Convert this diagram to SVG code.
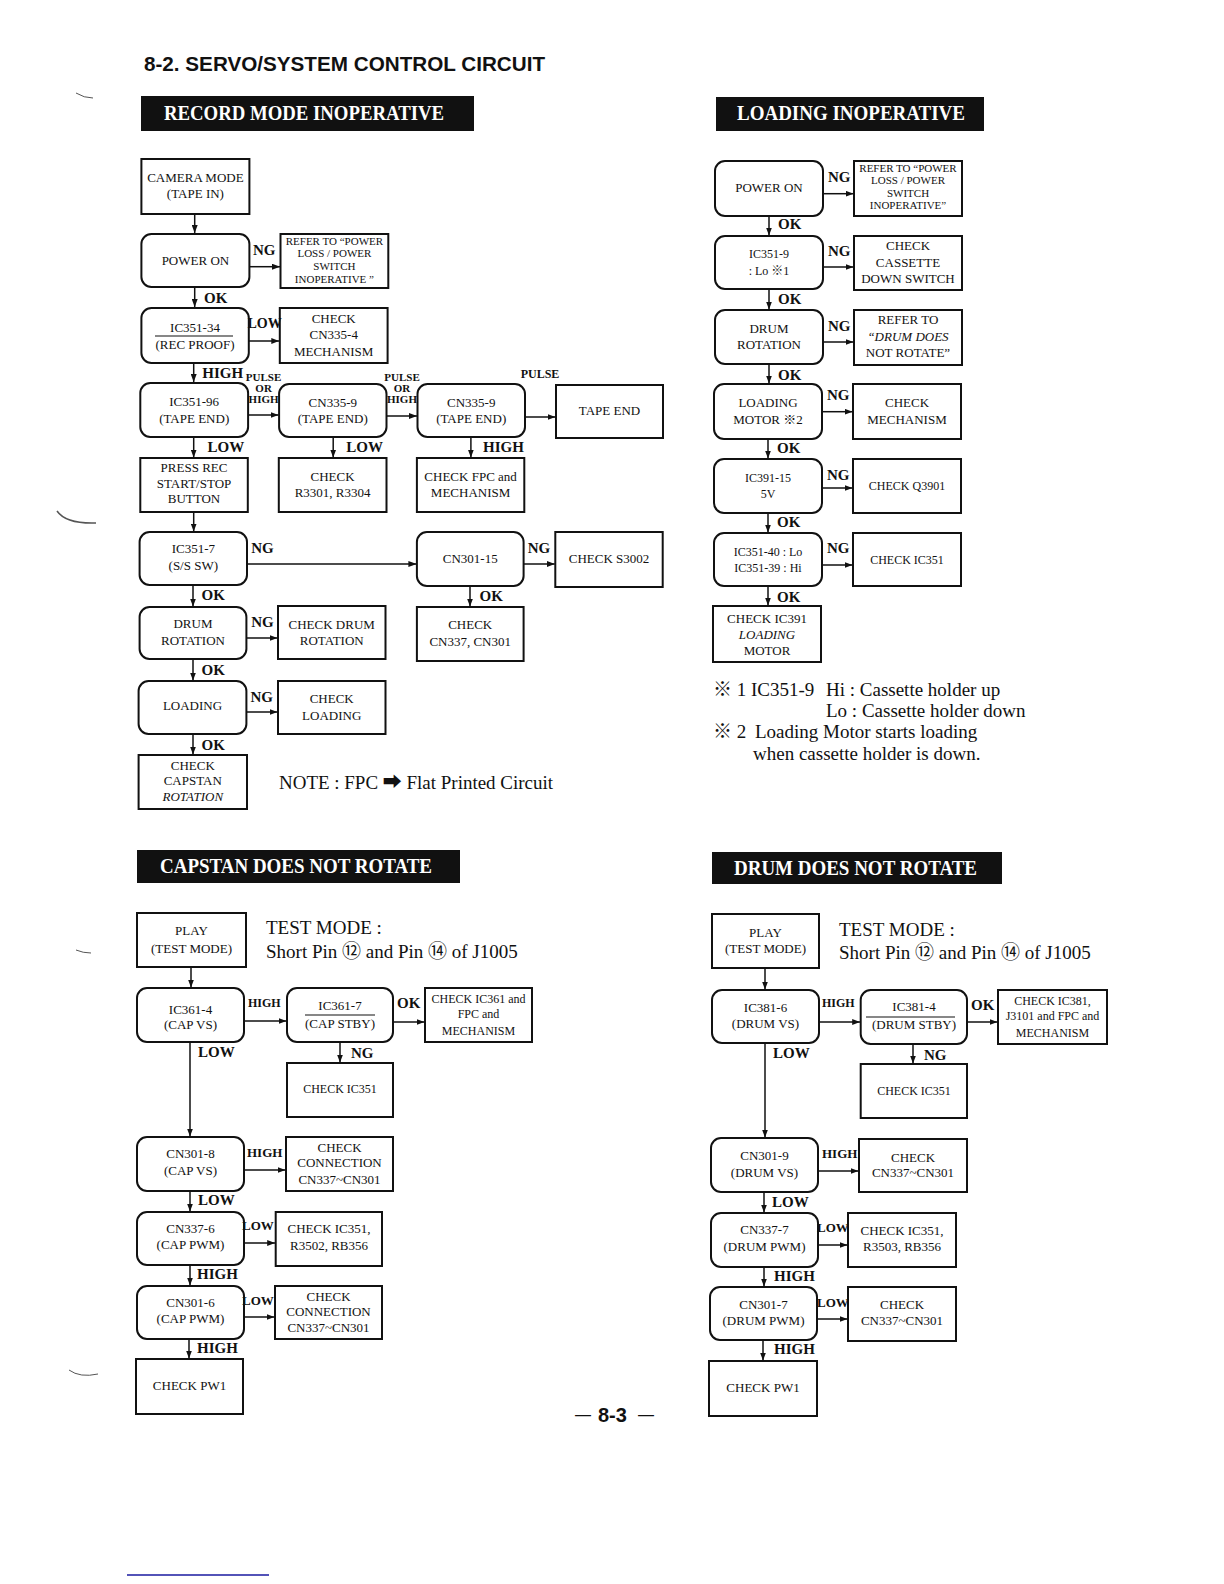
<svg xmlns="http://www.w3.org/2000/svg" width="1224" height="1584" viewBox="0 0 1224 1584">
<style>
text{font-family:'Liberation Serif','Noto Sans CJK JP',serif;fill:#111}
.t{font-size:13px;text-anchor:middle}
.s{font-size:11px;text-anchor:middle}
.m{font-size:12px;text-anchor:middle}
.b{fill:#fff;stroke:#111;stroke-width:2}
.lb{font-size:15px;font-weight:bold}
.ls{font-size:12px;font-weight:bold}
.lp{font-size:11px;font-weight:bold;text-anchor:middle}
.c{stroke:#111;stroke-width:1.5;fill:none}
.bn{fill:#111}
.bt{font-size:21px;font-weight:bold;fill:#fff}
.n{font-size:19px}
.sc{fill:none;stroke:#555;stroke-width:1}
</style>
<defs>
<marker id="a" markerWidth="8" markerHeight="6" refX="8" refY="3" orient="auto" markerUnits="userSpaceOnUse"><path d="M0,0 L8,3 L0,6 z" fill="#111"/></marker>
</defs>
<rect width="1224" height="1584" fill="#fff"/>
<text x="144" y="71" style="font-family:'Liberation Sans',Arial,sans-serif;font-size:20px;font-weight:bold" textLength="401" lengthAdjust="spacingAndGlyphs">8-2. SERVO/SYSTEM CONTROL CIRCUIT</text>

<!-- scan marks -->
<path class="sc" d="M76,93 Q84,98 93,98"/>
<path class="sc" d="M57,511 Q66,524 96,523" style="stroke-width:1.5"/>
<path class="sc" d="M76,950 Q83,953 91,953"/>
<path class="sc" d="M69,1370 Q80,1378 98,1374"/>
<line x1="127" y1="1575" x2="269" y2="1575" stroke="#1a1aa0" stroke-width="1.5"/>

<!-- banners -->
<g id="banner-record"><rect class="bn" x="141" y="96" width="333" height="35"/><text class="bt" x="164" y="120" textLength="280" lengthAdjust="spacingAndGlyphs">RECORD MODE INOPERATIVE</text></g>
<g id="banner-loading"><rect class="bn" x="716" y="97" width="268" height="34"/><text class="bt" x="737" y="120" textLength="228" lengthAdjust="spacingAndGlyphs">LOADING INOPERATIVE</text></g>
<g id="banner-capstan"><rect class="bn" x="137" y="850" width="323" height="33"/><text class="bt" x="160" y="873" textLength="272" lengthAdjust="spacingAndGlyphs">CAPSTAN DOES NOT ROTATE</text></g>
<g id="banner-drum"><rect class="bn" x="712" y="852" width="290" height="32"/><text class="bt" x="734" y="875" textLength="243" lengthAdjust="spacingAndGlyphs">DRUM DOES NOT ROTATE</text></g>

<!-- ===== RECORD MODE INOPERATIVE ===== -->
<g id="r-camera"><rect class="b" x="141.4" y="159" width="108" height="55"/><text class="t" x="195.4" y="182">CAMERA MODE</text><text class="t" x="195.4" y="198">(TAPE IN)</text></g>
<g id="r-power"><rect class="b" x="141.4" y="234" width="108" height="53" rx="10"/><text class="t" x="195.4" y="265">POWER ON</text></g>
<g id="r-refer"><rect class="b" x="280.5" y="234" width="107.8" height="54"/><text class="s" x="334.4" y="245">REFER TO “POWER</text><text class="s" x="334.4" y="257">LOSS / POWER</text><text class="s" x="334.4" y="270">SWITCH</text><text class="s" x="334.4" y="283">INOPERATIVE ”</text></g>
<g id="r-ic351-34"><rect class="b" x="141.4" y="308" width="107.4" height="55" rx="10"/><text class="t" x="195" y="331.5">IC351-34</text><line x1="155" y1="336" x2="233" y2="336" stroke="#111" stroke-width="1.2"/><text class="t" x="195" y="348.5">(REC PROOF)</text></g>
<g id="r-check-cn335-4"><rect class="b" x="279.8" y="308" width="107.8" height="55"/><text class="t" x="333.7" y="323">CHECK</text><text class="t" x="333.7" y="339">CN335-4</text><text class="t" x="333.7" y="356">MECHANISM</text></g>
<g id="r-ic351-96"><rect class="b" x="140.3" y="383" width="107.8" height="54" rx="10"/><text class="t" x="194.2" y="406">IC351-96</text><text class="t" x="194.2" y="423">(TAPE END)</text></g>
<g id="r-cn335-9a"><rect class="b" x="279.1" y="384" width="107.4" height="53" rx="10"/><text class="t" x="332.8" y="407">CN335-9</text><text class="t" x="332.8" y="423">(TAPE END)</text></g>
<g id="r-cn335-9b"><rect class="b" x="417.5" y="384" width="107.5" height="53" rx="10"/><text class="t" x="471.2" y="407">CN335-9</text><text class="t" x="471.2" y="423">(TAPE END)</text></g>
<g id="r-tape-end"><rect class="b" x="556" y="385" width="107" height="53"/><text class="t" x="609.5" y="415">TAPE END</text></g>
<g id="r-press-rec"><rect class="b" x="140.3" y="458" width="107.5" height="54"/><text class="t" x="194" y="472">PRESS REC</text><text class="t" x="194" y="488">START/STOP</text><text class="t" x="194" y="503">BUTTON</text></g>
<g id="r-check-r3301"><rect class="b" x="278.8" y="458" width="107.7" height="54"/><text class="t" x="332.6" y="481">CHECK</text><text class="t" x="332.6" y="497">R3301, R3304</text></g>
<g id="r-check-fpc"><rect class="b" x="416.9" y="458" width="107.4" height="54"/><text class="t" x="470.6" y="481">CHECK FPC  and</text><text class="t" x="470.6" y="497">MECHANISM</text></g>
<g id="r-ic351-7"><rect class="b" x="139.6" y="532" width="107.4" height="53" rx="10"/><text class="t" x="193.3" y="553">IC351-7</text><text class="t" x="193.3" y="570">(S/S SW)</text></g>
<g id="r-cn301-15"><rect class="b" x="416.9" y="532" width="106.7" height="54" rx="10"/><text class="t" x="470.2" y="563">CN301-15</text></g>
<g id="r-check-s3002"><rect class="b" x="555.3" y="532" width="107.4" height="55"/><text class="t" x="609" y="563">CHECK S3002</text></g>
<g id="r-drum-rot"><rect class="b" x="139.6" y="607" width="106.8" height="52" rx="10"/><text class="t" x="193" y="628">DRUM</text><text class="t" x="193" y="645">ROTATION</text></g>
<g id="r-check-drum"><rect class="b" x="278" y="606" width="107.5" height="53"/><text class="t" x="331.7" y="629">CHECK DRUM</text><text class="t" x="331.7" y="645">ROTATION</text></g>
<g id="r-check-cn337"><rect class="b" x="416.9" y="607" width="106.7" height="54"/><text class="t" x="470.2" y="629">CHECK</text><text class="t" x="470.2" y="646">CN337, CN301</text></g>
<g id="r-loading"><rect class="b" x="138.6" y="681" width="107.8" height="53" rx="10"/><text class="t" x="192.5" y="710">LOADING</text></g>
<g id="r-check-loading"><rect class="b" x="278" y="681" width="107.5" height="53"/><text class="t" x="331.7" y="703">CHECK</text><text class="t" x="331.7" y="720">LOADING</text></g>
<g id="r-check-capstan"><rect class="b" x="138.6" y="755" width="108.4" height="54"/><text class="t" x="192.8" y="770">CHECK</text><text class="t" x="192.8" y="785">CAPSTAN</text><text class="t" x="192.8" y="801" font-style="italic">ROTATION</text></g>
<text x="279" y="789" style="font-size:19px" textLength="274" lengthAdjust="spacingAndGlyphs">NOTE  : FPC ➡ Flat Printed Circuit</text>

<!-- ===== LOADING INOPERATIVE ===== -->
<g id="l-power"><rect class="b" x="715" y="161" width="108" height="55" rx="10"/><text class="t" x="769" y="192">POWER ON</text></g>
<g id="l-refer"><rect class="b" x="854" y="161" width="108" height="55"/><text class="s" x="908" y="172">REFER TO “POWER</text><text class="s" x="908" y="184">LOSS / POWER</text><text class="s" x="908" y="197">SWITCH</text><text class="s" x="908" y="209">INOPERATIVE”</text></g>
<g id="l-ic351-9"><rect class="b" x="715" y="236" width="108" height="53" rx="10"/><text class="m" x="769" y="258">IC351-9</text><text class="m" x="769" y="275">: Lo   ※1</text></g>
<g id="l-check-cassette"><rect class="b" x="854" y="236" width="108" height="54"/><text class="t" x="908" y="250">CHECK</text><text class="t" x="908" y="267">CASSETTE</text><text class="t" x="908" y="283">DOWN SWITCH</text></g>
<g id="l-drum-rot"><rect class="b" x="715" y="310" width="108" height="54" rx="10"/><text class="t" x="769" y="333">DRUM</text><text class="t" x="769" y="349">ROTATION</text></g>
<g id="l-refer-drum"><rect class="b" x="854" y="310" width="108" height="55"/><text class="t" x="908" y="324">REFER TO</text><text class="t" x="908" y="341" font-style="italic">“DRUM DOES</text><text class="t" x="908" y="357">NOT ROTATE”</text></g>
<g id="l-loading-motor"><rect class="b" x="714" y="384" width="108" height="55" rx="10"/><text class="t" x="768" y="407">LOADING</text><text class="t" x="768" y="424">MOTOR ※2</text></g>
<g id="l-check-mech"><rect class="b" x="853" y="384" width="108" height="55"/><text class="t" x="907" y="407">CHECK</text><text class="t" x="907" y="424">MECHANISM</text></g>
<g id="l-ic391-15"><rect class="b" x="714" y="459" width="108" height="54" rx="10"/><text class="m" x="768" y="482">IC391-15</text><text class="m" x="768" y="498">5V</text></g>
<g id="l-check-q3901"><rect class="b" x="853" y="459" width="108" height="54"/><text class="m" x="907" y="490">CHECK Q3901</text></g>
<g id="l-ic351-40"><rect class="b" x="714" y="533" width="108" height="53" rx="10"/><text class="m" x="768" y="556">IC351-40 : Lo</text><text class="m" x="768" y="572">IC351-39 : Hi</text></g>
<g id="l-check-ic351"><rect class="b" x="853" y="533" width="108" height="53"/><text class="m" x="907" y="564">CHECK IC351</text></g>
<g id="l-check-ic391"><rect class="b" x="713" y="606" width="108" height="56"/><text class="t" x="767" y="623">CHECK IC391</text><text class="t" x="767" y="639" font-style="italic">LOADING</text><text class="t" x="767" y="655">MOTOR</text></g>
<g id="l-notes">
<text class="n" x="713" y="696">※ 1 IC351-9</text><text class="n" x="826" y="696">Hi : Cassette holder up</text>
<text class="n" x="826" y="717">Lo : Cassette holder down</text>
<text class="n" x="713" y="738">※ 2</text><text class="n" x="755" y="738">Loading Motor starts loading</text>
<text class="n" x="753" y="760">when cassette holder is down.</text>
</g>

<!-- ===== CAPSTAN DOES NOT ROTATE ===== -->
<g id="c-play"><rect class="b" x="137" y="913" width="109" height="54"/><text class="t" x="191.5" y="935">PLAY</text><text class="t" x="191.5" y="953">(TEST MODE)</text></g>
<text class="n" x="266" y="934">TEST MODE :</text>
<text class="n" x="266" y="958">Short Pin ⑫ and Pin ⑭ of J1005</text>
<g id="c-ic361-4"><rect class="b" x="137" y="988" width="107" height="54" rx="10"/><text class="t" x="190.5" y="1014">IC361-4</text><text class="t" x="190.5" y="1029">(CAP VS)</text></g>
<g id="c-ic361-7"><rect class="b" x="287" y="988" width="106" height="54" rx="10"/><text class="t" x="340" y="1010">IC361-7</text><line x1="305" y1="1015" x2="375" y2="1015" stroke="#111" stroke-width="1.2"/><text class="t" x="340" y="1028">(CAP STBY)</text></g>
<g id="c-check-ic361"><rect class="b" x="425" y="988" width="107" height="54"/><text class="m" x="478.5" y="1003">CHECK IC361 and</text><text class="m" x="478.5" y="1018">FPC and</text><text class="m" x="478.5" y="1035">MECHANISM</text></g>
<g id="c-check-ic351"><rect class="b" x="287" y="1063" width="106" height="54"/><text class="m" x="340" y="1093">CHECK IC351</text></g>
<g id="c-cn301-8"><rect class="b" x="137" y="1137" width="107" height="54" rx="10"/><text class="t" x="190.5" y="1158">CN301-8</text><text class="t" x="190.5" y="1175">(CAP VS)</text></g>
<g id="c-check-conn1"><rect class="b" x="286" y="1137" width="107" height="54"/><text class="t" x="339.5" y="1152">CHECK</text><text class="t" x="339.5" y="1167">CONNECTION</text><text class="t" x="339.5" y="1184">CN337~CN301</text></g>
<g id="c-cn337-6"><rect class="b" x="137" y="1212" width="107" height="53" rx="10"/><text class="t" x="190.5" y="1233">CN337-6</text><text class="t" x="190.5" y="1249">(CAP PWM)</text></g>
<g id="c-check-r3502"><rect class="b" x="275.7" y="1212" width="106.3" height="54"/><text class="t" x="329" y="1233">CHECK IC351,</text><text class="t" x="329" y="1250">R3502, RB356</text></g>
<g id="c-cn301-6"><rect class="b" x="137" y="1286" width="107" height="53" rx="10"/><text class="t" x="190.5" y="1307">CN301-6</text><text class="t" x="190.5" y="1323">(CAP PWM)</text></g>
<g id="c-check-conn2"><rect class="b" x="275" y="1286" width="107" height="53"/><text class="t" x="328.5" y="1301">CHECK</text><text class="t" x="328.5" y="1316">CONNECTION</text><text class="t" x="328.5" y="1332">CN337~CN301</text></g>
<g id="c-check-pw1"><rect class="b" x="136" y="1359" width="107" height="55"/><text class="t" x="189.5" y="1390">CHECK PW1</text></g>

<!-- ===== DRUM DOES NOT ROTATE ===== -->
<g id="d-play"><rect class="b" x="712" y="914" width="107" height="54"/><text class="t" x="765.5" y="937">PLAY</text><text class="t" x="765.5" y="953">(TEST MODE)</text></g>
<text class="n" x="839" y="936">TEST MODE :</text>
<text class="n" x="839" y="959">Short Pin ⑫ and Pin ⑭ of J1005</text>
<g id="d-ic381-6"><rect class="b" x="712" y="990" width="107" height="53" rx="10"/><text class="t" x="765.5" y="1012">IC381-6</text><text class="t" x="765.5" y="1028">(DRUM VS)</text></g>
<g id="d-ic381-4"><rect class="b" x="860.7" y="990" width="106.3" height="54" rx="10"/><text class="t" x="914" y="1011">IC381-4</text><line x1="866" y1="1017" x2="955" y2="1017" stroke="#111" stroke-width="1.2"/><text class="t" x="914" y="1029">(DRUM STBY)</text></g>
<g id="d-check-ic381"><rect class="b" x="998" y="990" width="109" height="54"/><text class="m" x="1052.5" y="1005">CHECK IC381,</text><text class="m" x="1052.5" y="1020">J3101 and FPC and</text><text class="m" x="1052.5" y="1037">MECHANISM</text></g>
<g id="d-check-ic351"><rect class="b" x="860.7" y="1064" width="106.3" height="54"/><text class="m" x="914" y="1095">CHECK IC351</text></g>
<g id="d-cn301-9"><rect class="b" x="711" y="1138" width="107" height="54" rx="10"/><text class="t" x="764.5" y="1160">CN301-9</text><text class="t" x="764.5" y="1177">(DRUM VS)</text></g>
<g id="d-check-cn1"><rect class="b" x="859" y="1139" width="108" height="53"/><text class="t" x="913" y="1162">CHECK</text><text class="t" x="913" y="1177">CN337~CN301</text></g>
<g id="d-cn337-7"><rect class="b" x="711" y="1213" width="107" height="54" rx="10"/><text class="t" x="764.5" y="1234">CN337-7</text><text class="t" x="764.5" y="1251">(DRUM PWM)</text></g>
<g id="d-check-r3503"><rect class="b" x="848" y="1213" width="108" height="54"/><text class="t" x="902" y="1235">CHECK IC351,</text><text class="t" x="902" y="1251">R3503, RB356</text></g>
<g id="d-cn301-7"><rect class="b" x="710" y="1287" width="107" height="53" rx="10"/><text class="t" x="763.5" y="1309">CN301-7</text><text class="t" x="763.5" y="1325">(DRUM PWM)</text></g>
<g id="d-check-cn2"><rect class="b" x="848" y="1287" width="108" height="54"/><text class="t" x="902" y="1309">CHECK</text><text class="t" x="902" y="1325">CN337~CN301</text></g>
<g id="d-check-pw1"><rect class="b" x="709" y="1361" width="108" height="55"/><text class="t" x="763" y="1392">CHECK PW1</text></g>

<!-- ===== CONNECTORS ===== -->
<g id="connectors">
<g marker-end="url(#a)" class="c">
<!-- record -->
<line x1="194.7" y1="214" x2="194.7" y2="233"/>
<line x1="249.4" y1="266.7" x2="280" y2="266.7"/>
<line x1="194.7" y1="287" x2="194.7" y2="307"/>
<line x1="248.8" y1="341" x2="279.3" y2="341"/>
<line x1="193.7" y1="363" x2="193.7" y2="382"/>
<line x1="248.1" y1="415" x2="278.6" y2="415"/>
<line x1="386.5" y1="416" x2="417" y2="416"/>
<line x1="525" y1="417" x2="555.5" y2="417"/>
<line x1="193.7" y1="437" x2="193.7" y2="457.5"/>
<line x1="333.2" y1="437" x2="333.2" y2="457.5"/>
<line x1="470.9" y1="437" x2="470.9" y2="457.5"/>
<line x1="193.7" y1="512" x2="193.7" y2="531.5"/>
<line x1="247" y1="564" x2="416.4" y2="564"/>
<line x1="523.6" y1="564" x2="554.8" y2="564"/>
<line x1="193" y1="585" x2="193" y2="606.5"/>
<line x1="246.4" y1="638" x2="277.5" y2="638"/>
<line x1="470" y1="586" x2="470" y2="606.5"/>
<line x1="193" y1="659" x2="193" y2="680.5"/>
<line x1="246.4" y1="712" x2="277.5" y2="712"/>
<line x1="193" y1="734" x2="193" y2="754.5"/>
<!-- loading -->
<line x1="823" y1="193.7" x2="853.5" y2="193.7"/>
<line x1="769" y1="216" x2="769" y2="235.5"/>
<line x1="823" y1="267" x2="853.5" y2="267"/>
<line x1="769" y1="289" x2="769" y2="309.5"/>
<line x1="823" y1="342" x2="853.5" y2="342"/>
<line x1="769" y1="364" x2="769" y2="383.5"/>
<line x1="822" y1="411.7" x2="852.5" y2="411.7"/>
<line x1="768" y1="439" x2="768" y2="458.5"/>
<line x1="822" y1="488" x2="852.5" y2="488"/>
<line x1="768" y1="513" x2="768" y2="532.5"/>
<line x1="822" y1="565" x2="852.5" y2="565"/>
<line x1="768" y1="586" x2="768" y2="605.5"/>
<!-- capstan -->
<line x1="191" y1="967" x2="191" y2="987.5"/>
<line x1="244" y1="1021" x2="286.5" y2="1021"/>
<line x1="393" y1="1022" x2="424.5" y2="1022"/>
<line x1="340" y1="1042" x2="340" y2="1062.5"/>
<line x1="190" y1="1042" x2="190" y2="1136.5"/>
<line x1="244" y1="1170" x2="285.5" y2="1170"/>
<line x1="190" y1="1191" x2="190" y2="1211.5"/>
<line x1="244" y1="1243" x2="275.2" y2="1243"/>
<line x1="190" y1="1265" x2="190" y2="1285.5"/>
<line x1="244" y1="1317" x2="274.5" y2="1317"/>
<line x1="189" y1="1339" x2="189" y2="1358.5"/>
<!-- drum -->
<line x1="765" y1="968" x2="765" y2="989.5"/>
<line x1="819" y1="1022" x2="860.2" y2="1022"/>
<line x1="967" y1="1022" x2="997.5" y2="1022"/>
<line x1="913" y1="1044" x2="913" y2="1063.5"/>
<line x1="765" y1="1043" x2="765" y2="1137.5"/>
<line x1="818" y1="1171" x2="858.5" y2="1171"/>
<line x1="764" y1="1192" x2="764" y2="1212.5"/>
<line x1="818" y1="1245" x2="847.5" y2="1245"/>
<line x1="764" y1="1267" x2="764" y2="1286.5"/>
<line x1="817" y1="1319" x2="847.5" y2="1319"/>
<line x1="763" y1="1340" x2="763" y2="1360.5"/>
</g>
<!-- labels record -->
<text class="lb" x="253" y="255">NG</text>
<text class="lb" x="204" y="303">OK</text>
<text class="lb" x="247.5" y="328" style="font-size:14px">LOW</text>
<text class="lb" x="202.3" y="378">HIGH</text>
<text class="lp" x="263.6" y="381">PULSE</text><text class="lp" x="263.6" y="392">OR</text><text class="lp" x="263.6" y="403">HIGH</text>
<text class="lp" x="402" y="381">PULSE</text><text class="lp" x="402" y="392">OR</text><text class="lp" x="402" y="403">HIGH</text>
<text class="lp" x="540" y="378" style="font-size:12px">PULSE</text>
<text class="lb" x="207.5" y="452">LOW</text>
<text class="lb" x="346.3" y="452">LOW</text>
<text class="lb" x="483" y="452">HIGH</text>
<text class="lb" x="251.2" y="553">NG</text>
<text class="lb" x="527.7" y="553">NG</text>
<text class="lb" x="201.6" y="600">OK</text>
<text class="lb" x="251.2" y="627">NG</text>
<text class="lb" x="479.5" y="601">OK</text>
<text class="lb" x="201.6" y="675">OK</text>
<text class="lb" x="250.5" y="702">NG</text>
<text class="lb" x="201.6" y="750">OK</text>
<!-- labels loading -->
<text class="lb" x="828" y="182">NG</text>
<text class="lb" x="778" y="229">OK</text>
<text class="lb" x="828" y="256">NG</text>
<text class="lb" x="778" y="304">OK</text>
<text class="lb" x="828" y="331">NG</text>
<text class="lb" x="778" y="380">OK</text>
<text class="lb" x="827" y="400">NG</text>
<text class="lb" x="777" y="453">OK</text>
<text class="lb" x="827" y="480">NG</text>
<text class="lb" x="777" y="527">OK</text>
<text class="lb" x="827" y="553">NG</text>
<text class="lb" x="777" y="602">OK</text>
<!-- labels capstan -->
<text class="ls" x="248" y="1007">HIGH</text>
<text class="lb" x="397" y="1008">OK</text>
<text class="lb" x="198" y="1057">LOW</text>
<text class="lb" x="351" y="1058">NG</text>
<text class="ls" x="247" y="1157" style="font-size:13px">HIGH</text>
<text class="lb" x="198" y="1205">LOW</text>
<text class="ls" x="242" y="1230" style="font-size:13px">LOW</text>
<text class="lb" x="197" y="1279">HIGH</text>
<text class="ls" x="242" y="1305" style="font-size:13px">LOW</text>
<text class="lb" x="197" y="1353">HIGH</text>
<!-- labels drum -->
<text class="ls" x="822" y="1007">HIGH</text>
<text class="lb" x="971" y="1010">OK</text>
<text class="lb" x="773" y="1058">LOW</text>
<text class="lb" x="924" y="1060">NG</text>
<text class="ls" x="822" y="1158" style="font-size:13px">HIGH</text>
<text class="lb" x="772" y="1207">LOW</text>
<text class="ls" x="817" y="1232" style="font-size:13px">LOW</text>
<text class="lb" x="774" y="1281">HIGH</text>
<text class="ls" x="817" y="1307" style="font-size:13px">LOW</text>
<text class="lb" x="774" y="1354">HIGH</text>
</g>

<g id="page-number">
<text x="575" y="1420" style="font-family:'Liberation Sans',sans-serif;font-size:16px">—</text>
<text x="598" y="1422" style="font-family:'Liberation Sans',sans-serif;font-size:20px;font-weight:bold">8-3</text>
<text x="638" y="1420" style="font-family:'Liberation Sans',sans-serif;font-size:16px">—</text>
</g>
</svg>
